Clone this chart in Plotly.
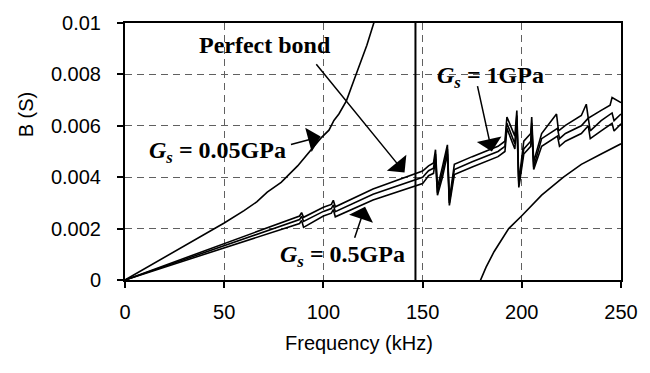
import plotly.graph_objects as go

# ---------------- data ----------------
f_005 = [0, 25, 50, 60, 66.4, 71.7, 78.7, 87, 93.6, 98.6, 102.8, 105.3, 107.8, 111.6, 115.2, 117.7, 121.9, 125.2, 128]
b_005 = [0, 0.0011, 0.00222, 0.0027, 0.00304, 0.00342, 0.0038, 0.00444, 0.00507, 0.00551, 0.00583, 0.00621, 0.00646, 0.00697, 0.00773, 0.00824, 0.00913, 0.00995, 0.0106]

f_005b = [177, 179.3, 182, 186, 190, 193.4, 200, 210, 221, 230, 240, 250]
b_005b = [-0.0004, 0.0, 0.0005, 0.0011, 0.0016, 0.002, 0.0025, 0.0033, 0.004, 0.0045, 0.0049, 0.0053]

f_perf = [0, 25, 50, 75, 88, 89, 90, 100, 104, 105, 106, 125, 140, 146, 150, 153, 155.5, 156.5, 157.5, 160,
          162.5, 163.5, 166, 175, 182, 188, 191.5, 192.5, 196.5, 197.5, 198.5, 201, 204.5, 205, 206, 210,
          217.5, 218.5, 222, 230, 232.5, 233.5, 240, 244.5, 245.5, 250]
b_perf = [0, 0.0007, 0.0014, 0.00212, 0.00249, 0.00262, 0.00244, 0.00283, 0.00294, 0.00310, 0.00285, 0.00354,
          0.00396, 0.00413, 0.00424, 0.00444, 0.00455, 0.00507, 0.0036, 0.0044, 0.00526, 0.0031, 0.0045, 0.0048,
          0.0050, 0.0052, 0.0054, 0.00634, 0.0056, 0.00659, 0.0038, 0.0054, 0.0057, 0.00634, 0.0046, 0.0057,
          0.00646, 0.0058, 0.00602, 0.0064, 0.00684, 0.0063, 0.0066, 0.0068, 0.0071, 0.0069]

f_1 = [0, 25, 50, 75, 88, 89, 90, 100, 104, 105, 106, 125, 140, 146, 150, 153, 155.5, 156.5, 157.5, 160,
       162.5, 163.5, 166, 175, 182, 188, 191.5, 192.5, 196.5, 197.5, 198.5, 201, 204.5, 205, 206, 210,
       218, 219, 222, 230, 233.5, 234.5, 240, 245.5, 246.5, 250]
b_1 = [0, 0.00067, 0.00133, 0.002, 0.00235, 0.00248, 0.00228, 0.00267, 0.00278, 0.00292, 0.00266, 0.00334,
       0.00374, 0.0039, 0.004, 0.00425, 0.00435, 0.0049, 0.0034, 0.0042, 0.0051, 0.003, 0.0043, 0.0046,
       0.0048, 0.0050, 0.0052, 0.0061, 0.0053, 0.0064, 0.0037, 0.0051, 0.0054, 0.0061, 0.0044, 0.0055,
       0.0059, 0.0055, 0.0057, 0.0060, 0.0063, 0.0058, 0.0062, 0.0065, 0.0062, 0.00646]

f_05 = f_1
b_05 = [0, 0.00062, 0.00125, 0.00187, 0.0022, 0.00232, 0.00205, 0.00249, 0.0026, 0.00274, 0.00246, 0.00311,
        0.00349, 0.00363, 0.00375, 0.00406, 0.00415, 0.0047, 0.0033, 0.0040, 0.0049, 0.0029, 0.0041, 0.0044,
        0.00463, 0.0048, 0.0050, 0.0059, 0.0051, 0.0062, 0.0036, 0.0049, 0.0052, 0.0059, 0.0043, 0.0052,
        0.0056, 0.0052, 0.0054, 0.0057, 0.0060, 0.0055, 0.0058, 0.0061, 0.0058, 0.00608]

x_ticks = [0, 50, 100, 150, 200, 250]
y_ticks = [0, 0.002, 0.004, 0.006, 0.008, 0.01]
y_ticktext = ["0", "0.002", "0.004", "0.006", "0.008", "0.01"]
v_line_f = 146.4

# ---------------- figure ----------------
fig = go.Figure()
line = dict(color="black", width=1.6)
for fx, by in [(f_005, b_005), (f_005b, b_005b), (f_perf, b_perf), (f_1, b_1), (f_05, b_05)]:
    fig.add_trace(go.Scatter(x=fx, y=by, mode="lines", line=line, showlegend=False, hoverinfo="skip"))

fig.add_shape(type="line", x0=v_line_f, x1=v_line_f, y0=0, y1=1, xref="x", yref="paper",
              line=dict(color="black", width=2))

serif = dict(family="Liberation Serif, Times New Roman, serif", size=24, color="black")

texts = [
    ("<b>Perfect bond</b>", 70.8, 0.00914),
    ("<b><i>G</i><sub><i>s</i></sub> = 0.05GPa</b>", 46.7, 0.0050),
    ("<b><i>G</i><sub><i>s</i></sub> = 0.5GPa</b>", 109.4, 0.00095),
    ("<b><i>G</i><sub><i>s</i></sub> = 1GPa</b>", 184.1, 0.0079),
]
for t, x, y in texts:
    fig.add_annotation(text=t, x=x, y=y, xref="x", yref="y", showarrow=False, font=serif)

arrows = [
    (95.8, 0.00845, 140.9, 0.00418),
    (82.9, 0.00526, 98.6, 0.00558),
    (115.5, 0.00159, 121.0, 0.00285),
    (177.5, 0.0076, 184.9, 0.00500),
]
for ax, ay, x, y in arrows:
    fig.add_annotation(text="", x=x, y=y, ax=ax, ay=ay, xref="x", yref="y", axref="x", ayref="y",
                       showarrow=True, arrowhead=1, arrowsize=2.8, arrowwidth=1.5, arrowcolor="black")

sans = dict(family="Liberation Sans, Arial, sans-serif", size=20, color="black")
fig.add_annotation(text="Frequency (kHz)", xref="paper", yref="paper", x=0.4715, y=-0.247,
                   xanchor="center", yanchor="middle", showarrow=False, font=sans)
fig.add_annotation(text="B (S)", xref="paper", yref="paper", x=-0.199, y=0.646, textangle=-90,
                   xanchor="center", yanchor="middle", showarrow=False, font=sans)

axis_common = dict(showline=True, linecolor="black", linewidth=2, mirror=True,
                   ticks="outside", ticklen=6, tickwidth=1.5, tickcolor="black",
                   showgrid=True, gridcolor="#606060", gridwidth=1, griddash="7px,5px",
                   zeroline=False, tickfont=sans)
fig.update_xaxes(range=[0, 250], tickvals=x_ticks, ticklabelstandoff=7, **axis_common)
fig.update_yaxes(range=[0, 0.01], tickvals=y_ticks, ticktext=y_ticktext, ticklabelstandoff=12, **axis_common)

fig.update_layout(width=650, height=373, margin=dict(l=125, r=23, t=17, b=93),
                  plot_bgcolor="white", paper_bgcolor="white")
fig.write_html("out.html")
